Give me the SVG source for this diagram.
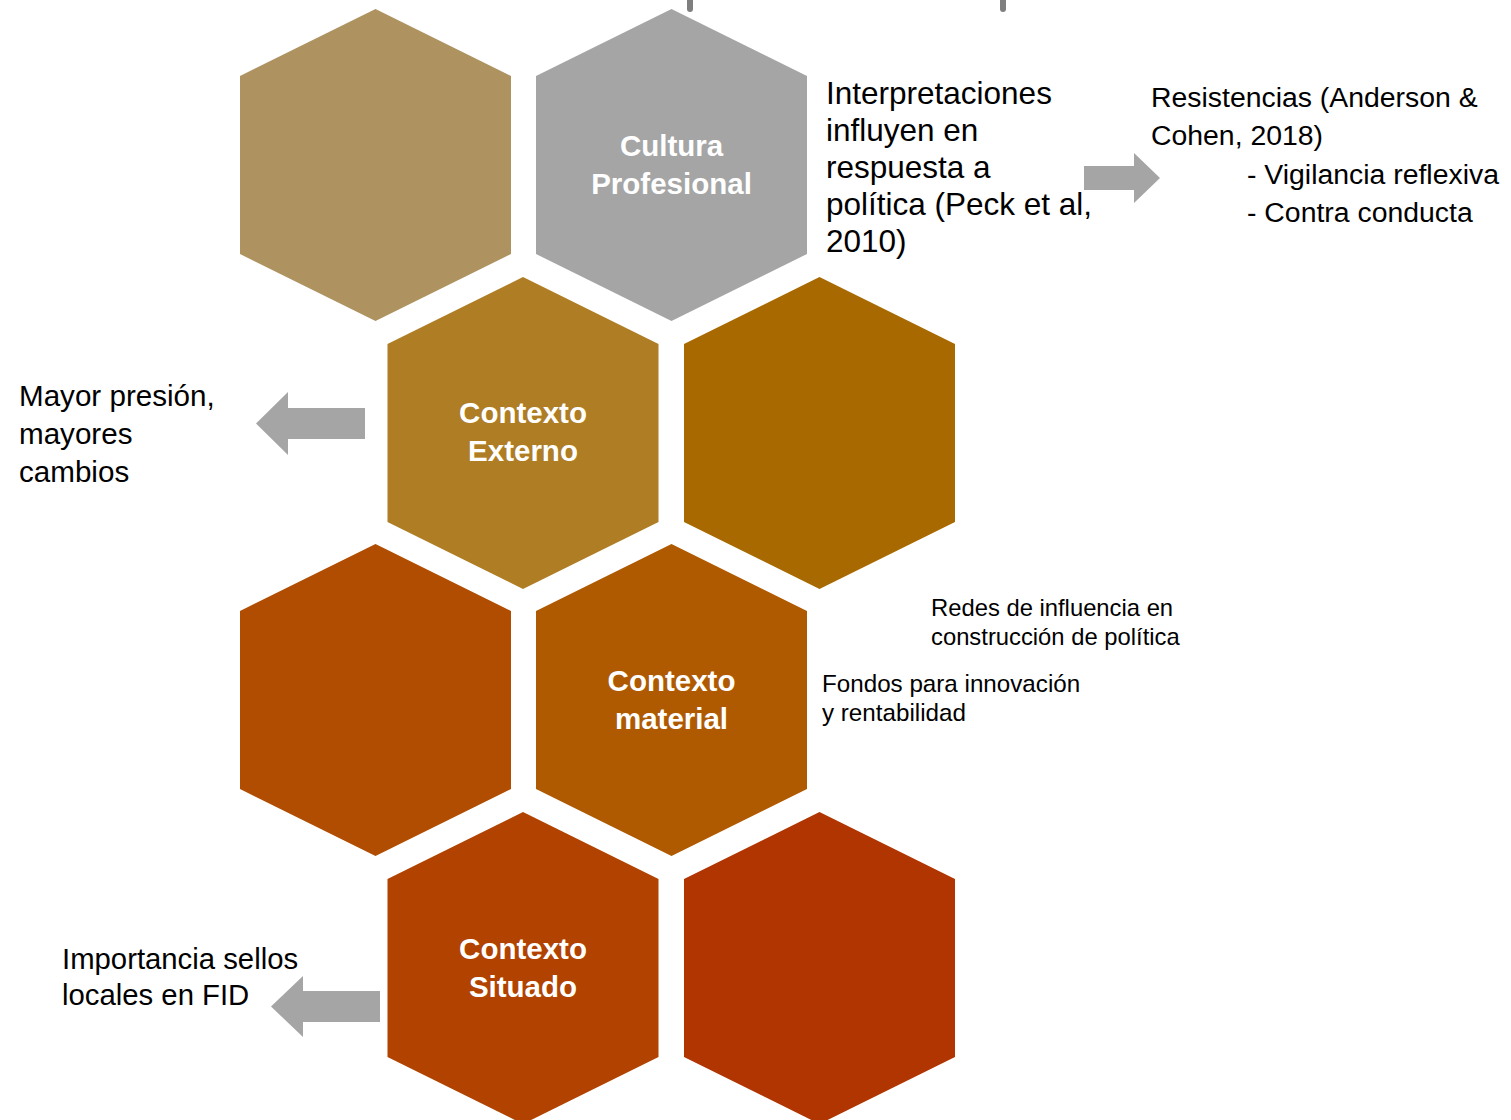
<svg xmlns="http://www.w3.org/2000/svg" width="1511" height="1120" viewBox="0 0 1511 1120">
<style>
.hl{font-family:"Liberation Sans",Arial,sans-serif;font-weight:bold;font-size:29.5px;fill:#ffffff;text-anchor:middle}
.t{font-family:"Liberation Sans",Arial,sans-serif;fill:#000000}
.arr{fill:#A5A5A5}
.bar{fill:#7F7F7F}
</style>
<defs>
<polygon id="hex" points="135.5,0 271,67 271,245 135.5,312 0,245 0,67"/>
</defs>
<rect width="1511" height="1120" fill="#ffffff"/>
<g id="top-lines">
<rect class="bar" x="687" y="-6" width="6" height="18" rx="3"/>
<rect class="bar" x="1000" y="-6" width="6" height="18" rx="3"/>
</g>
<g id="hex1"><use href="#hex" x="240" y="9" fill="#AE9260"/></g>
<g id="hex2"><use href="#hex" x="536" y="9" fill="#A5A5A5"/>
<text class="hl" x="671.5" y="155.5">Cultura</text>
<text class="hl" x="671.5" y="193.5">Profesional</text></g>
<g id="hex3"><use href="#hex" x="387.5" y="277" fill="#AE7D24"/>
<text class="hl" x="523" y="422.5">Contexto</text>
<text class="hl" x="523" y="460.5">Externo</text></g>
<g id="hex4"><use href="#hex" x="684" y="277" fill="#A86A00"/></g>
<g id="hex5"><use href="#hex" x="240" y="544" fill="#B04D00"/></g>
<g id="hex6"><use href="#hex" x="536" y="544" fill="#AF5A00"/>
<text class="hl" x="671.5" y="690.5">Contexto</text>
<text class="hl" x="671.5" y="728.5">material</text></g>
<g id="hex7"><use href="#hex" x="387.5" y="812" fill="#B14200"/>
<text class="hl" x="523" y="958.5">Contexto</text>
<text class="hl" x="523" y="996.5">Situado</text></g>
<g id="hex8"><use href="#hex" x="684" y="812" fill="#B13500"/></g>
<g id="connectors">
<polygon class="arr" points="1084,166 1134,166 1134,153 1160,178 1134,203 1134,190 1084,190"/>
<polygon class="arr" points="365,408 288,408 288,392 256,423.5 288,455 288,439 365,439"/>
<polygon class="arr" points="380,991 303,991 303,976 271,1006.5 303,1037 303,1022 380,1022"/>
</g>
<g id="text-interpretaciones" class="t" font-size="31.5">
<text x="826" y="103.5">Interpretaciones</text>
<text x="826" y="141">influyen en</text>
<text x="826" y="178">respuesta a</text>
<text x="826" y="215">política (Peck et al,</text>
<text x="826" y="252">2010)</text>
</g>
<g id="text-resistencias" class="t" font-size="28.4">
<text x="1151" y="107">Resistencias (Anderson &amp;</text>
<text x="1151" y="145">Cohen, 2018)</text>
<text x="1247" y="184">- Vigilancia reflexiva</text>
<text x="1247" y="222">- Contra conducta</text>
</g>
<g id="text-mayor" class="t" font-size="29.6">
<text x="19" y="406">Mayor presión,</text>
<text x="19" y="444">mayores</text>
<text x="19" y="482">cambios</text>
</g>
<g id="text-redes" class="t" font-size="23.8">
<text x="931" y="616">Redes de influencia en</text>
<text x="931" y="645">construcción de política</text>
</g>
<g id="text-fondos" class="t" font-size="24.2">
<text x="822" y="692">Fondos para innovación</text>
<text x="822" y="721">y rentabilidad</text>
</g>
<g id="text-importancia" class="t" font-size="29.3">
<text x="62" y="969">Importancia sellos</text>
<text x="62" y="1005">locales en FID</text>
</g>
</svg>
